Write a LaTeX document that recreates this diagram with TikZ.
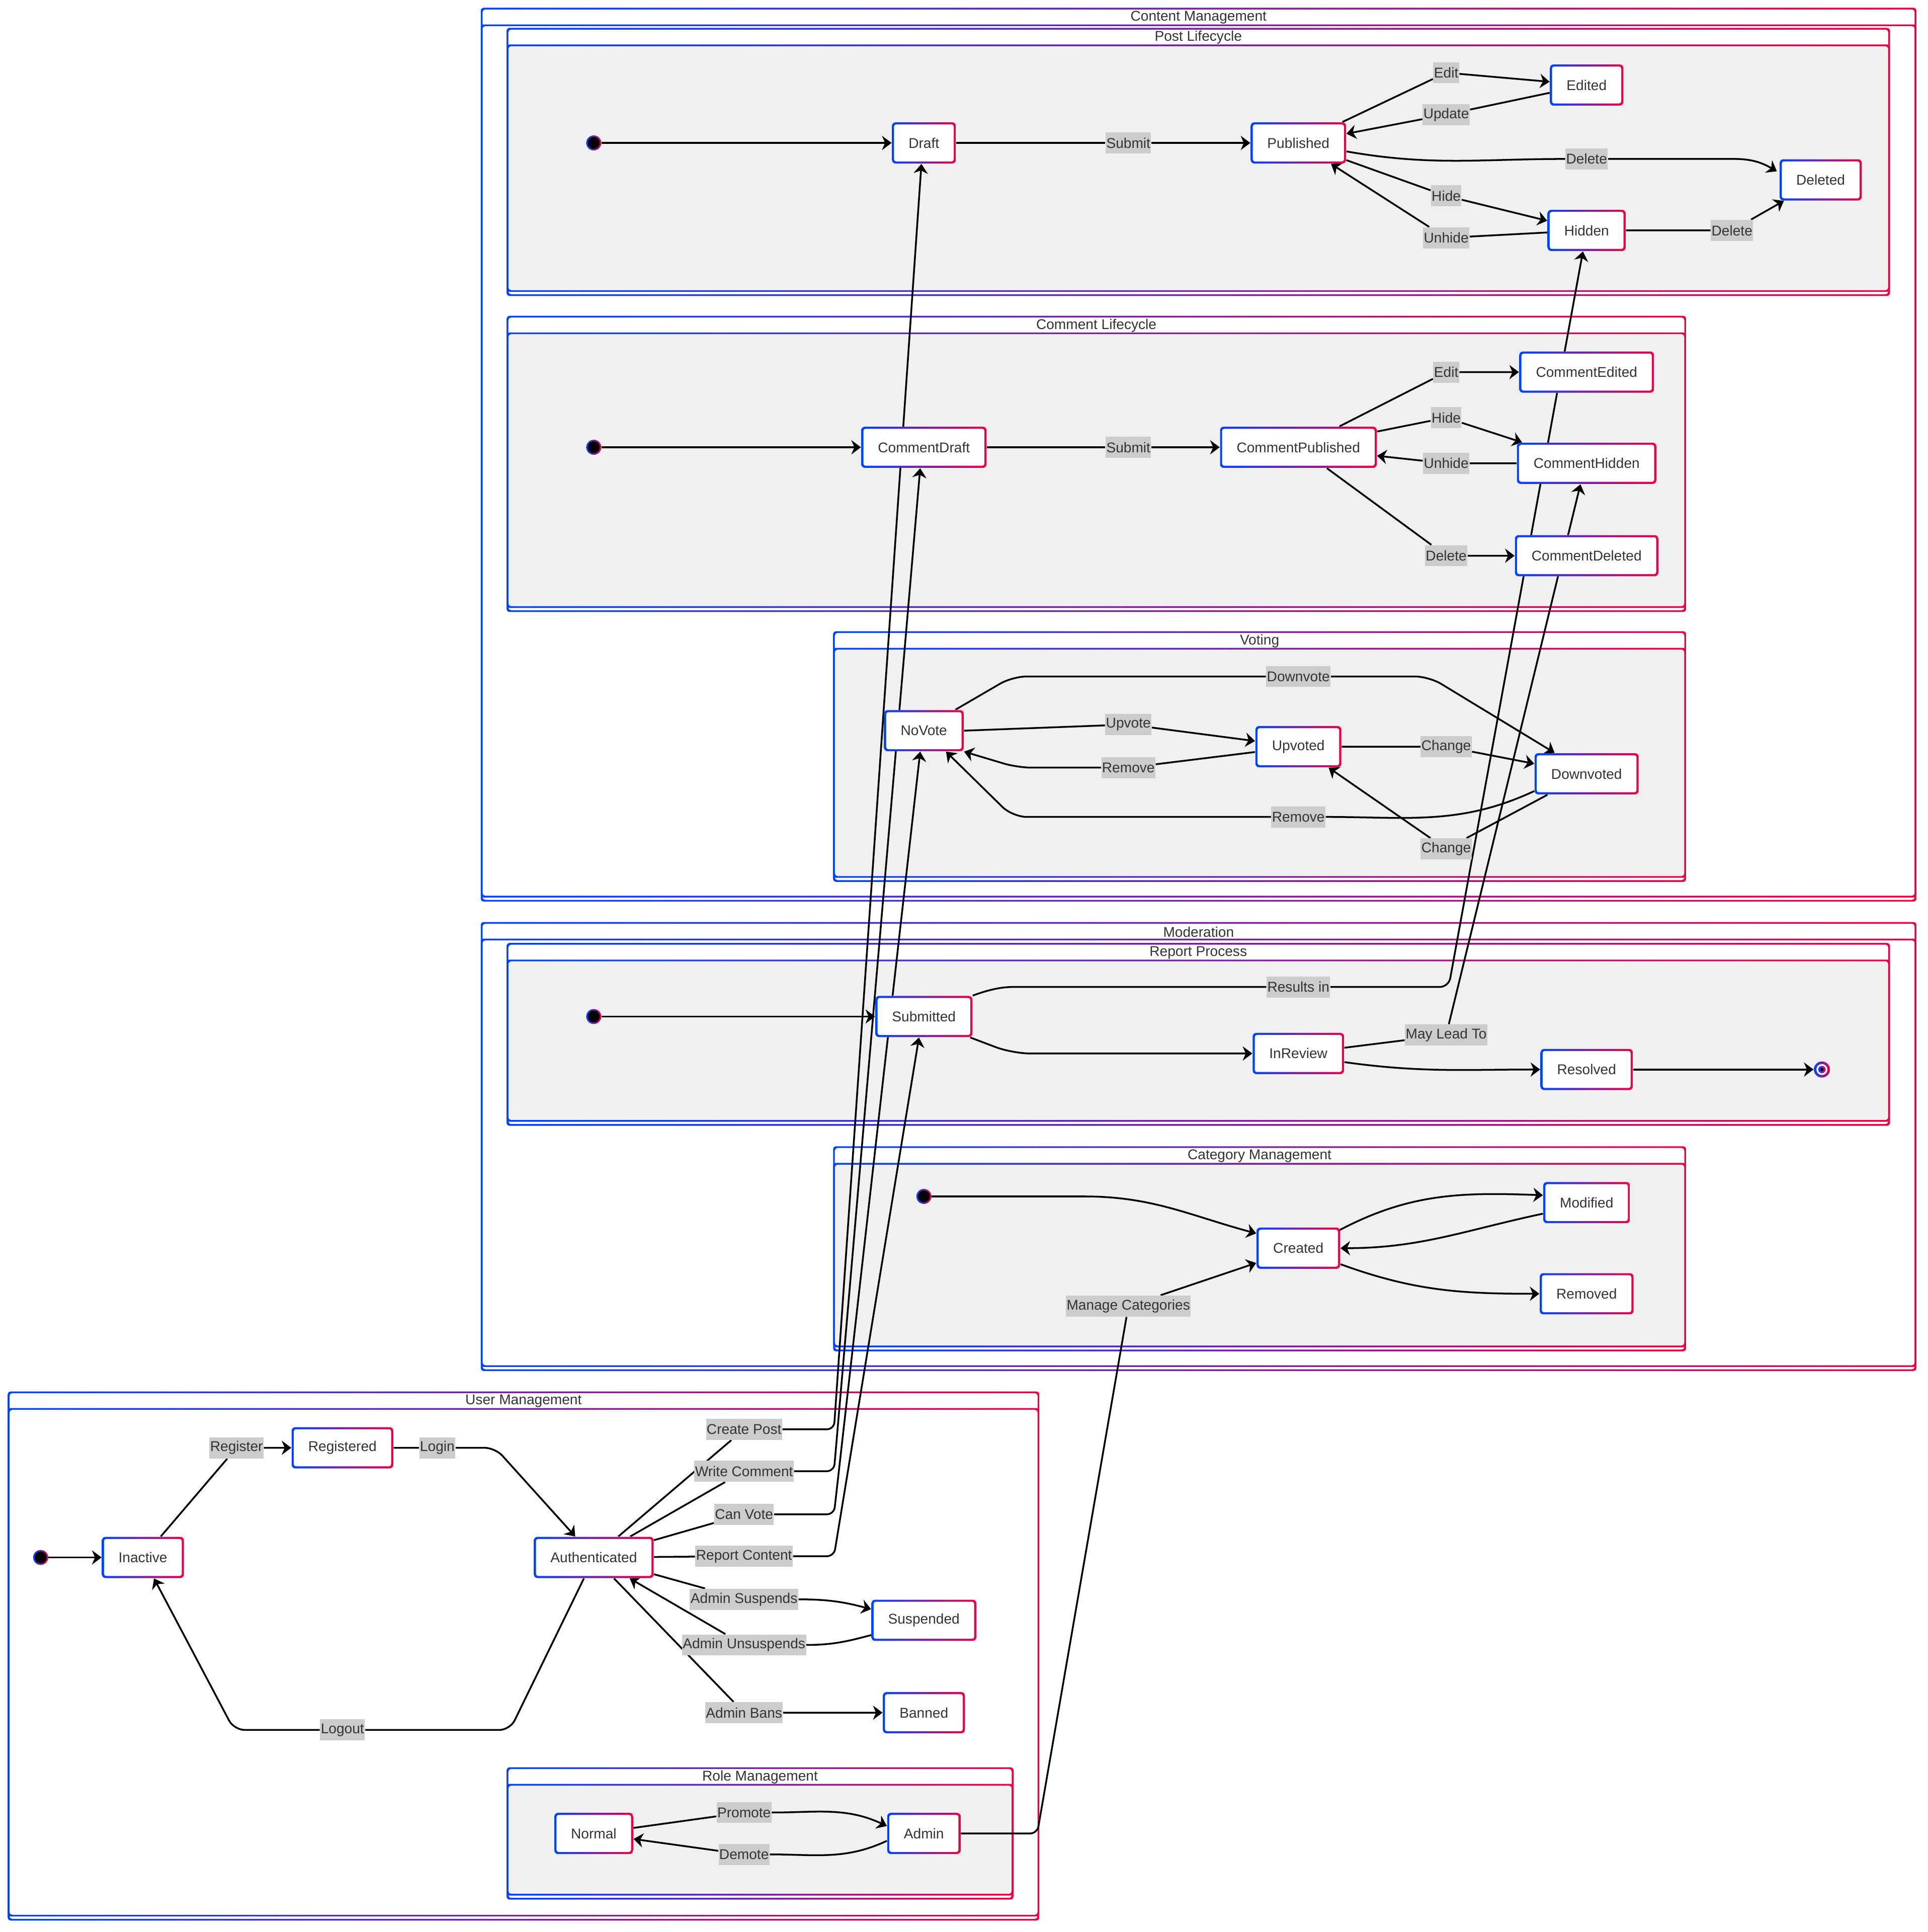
\documentclass[tikz,border=0pt]{standalone}
\usepackage{fontspec}
\setmainfont{Liberation Sans}
\usetikzlibrary{arrows.meta,calc}
\definecolor{cblue}{RGB}{0,68,255}
\definecolor{cred}{RGB}{238,0,68}
\definecolor{txtgrey}{RGB}{51,51,51}
\definecolor{lblgrey}{RGB}{204,204,204}
\definecolor{bodygrey}{RGB}{240,240,240}
\pgfdeclarelayer{frames}
\pgfdeclarelayer{wires}
\pgfsetlayers{frames,wires,main}
\newcommand{\statefont}{\fontsize{8}{9.6}\selectfont}
% gradient ring round a rectangle
\newcommand{\ringbox}[4]{%
	\shade[left color=cblue, right color=cred, even odd rule, rounded corners=1.5pt]
		(#1-0.7,#2-0.7) rectangle (#3+0.7,#4+0.7)
		(#1+0.7,#2+0.7) rectangle (#3-0.7,#4-0.7);}
% cluster: name, left, top, right, bottom, body fill, title
\newcommand{\clusterbox}[7]{%
	\fill[white, rounded corners=1.5pt] (#2,#3) rectangle (#4,#5);
	\fill[#6, rounded corners=1.5pt] (#2,#3+13.5) rectangle (#4,#5-3.3);
	\ringbox{#2}{#3}{#4}{#5}
	\ringbox{#2}{#3+13.5}{#4}{#5-3.3}
	\node[ctitle] (#1) at ({(#2+#4)/2},{#3+7.2}) {#7};}
\tikzset{
	statebox/.style={rectangle, rounded corners=2pt, fill=white, minimum height=23.3pt,
		inner xsep=9.4pt, inner ysep=0pt, text=txtgrey, font=\statefont,
		path picture={
			\shade[left color=cblue, right color=cred]
				(path picture bounding box.south west) rectangle (path picture bounding box.north east);
			\fill[white, rounded corners=1.2pt]
				([shift={(1.2pt,1.2pt)}]path picture bounding box.south west) rectangle
				([shift={(-1.2pt,-1.2pt)}]path picture bounding box.north east);}},
	startdot/.style={circle, minimum size=8.4pt, inner sep=0pt, fill=black,
		path picture={
			\shade[left color=cblue, right color=cred]
				(path picture bounding box.south west) rectangle (path picture bounding box.north east);
			\fill[black] (path picture bounding box.center) circle (3.4pt);}},
	enddot/.style={circle, minimum size=9.1pt, inner sep=0pt, fill=white,
		path picture={
			\shade[left color=cblue, right color=cred]
				(path picture bounding box.south west) rectangle (path picture bounding box.north east);
			\fill[white] (path picture bounding box.center) circle (3.1pt);
			\shade[left color=cblue, right color=cred] (path picture bounding box.center) circle (2.1pt);
			\fill[black] (path picture bounding box.center) circle (0.9pt);}},
	lbl/.style={fill=lblgrey, text=txtgrey, font=\statefont, inner xsep=0.4pt, inner ysep=0pt,
		minimum height=11.9pt},
	ctitle/.style={text=txtgrey, font=\statefont, inner sep=0pt},
	trarr/.style={line width=1pt, line join=round, -{Stealth[length=5.4pt, width=8pt, inset=1.7pt]}}
}

\begin{document}
\begin{tikzpicture}[x=0.6967pt, y=-0.6967pt]
	\useasboundingbox (0,0) rectangle (1565,1568);
	\begin{pgfonlayer}{frames}
		\fill[white] (0,0) rectangle (1565,1568);
		\clusterbox{contentmgmt}{391}{7}{1555}{731}{white}{Content Management}
		\clusterbox{postlife}{412}{23.3}{1533.5}{239.5}{bodygrey}{Post Lifecycle}
		\clusterbox{commentlife}{412}{257}{1368}{496}{bodygrey}{Comment Lifecycle}
		\clusterbox{voting}{677}{513}{1368}{715}{bodygrey}{Voting}
		\clusterbox{moderation}{391}{749}{1555}{1112}{white}{Moderation}
		\clusterbox{reportproc}{412}{766}{1533.5}{913}{bodygrey}{Report Process}
		\clusterbox{catmgmt}{677}{931}{1368}{1096}{bodygrey}{Category Management}
		\clusterbox{usermgmt}{7}{1130}{843}{1558}{white}{User Management}
		\clusterbox{rolemgmt}{412}{1435}{822}{1541}{bodygrey}{Role Management}
	\end{pgfonlayer}

	% post lifecycle
	\node[startdot] (ps) at (482,116) {};
	\node[statebox] (draft) at (750,116) {Draft};
	\node[statebox] (published) at (1054,116) {Published};
	\node[statebox] (edited) at (1288,69) {Edited};
	\node[statebox] (deleted) at (1478,146) {Deleted};
	\node[statebox] (hidden) at (1288,187) {Hidden};
	% comment lifecycle
	\node[startdot] (cs) at (482,363) {};
	\node[statebox] (cdraft) at (750,363) {CommentDraft};
	\node[statebox] (cpub) at (1054,363) {CommentPublished};
	\node[statebox] (cedit) at (1288,302) {CommentEdited};
	\node[statebox] (chid) at (1288,376) {CommentHidden};
	\node[statebox] (cdel) at (1288,451) {CommentDeleted};
	% voting
	\node[statebox] (novote) at (750,593) {NoVote};
	\node[statebox] (upv) at (1054,606) {Upvoted};
	\node[statebox] (downv) at (1288,628) {Downvoted};
	% report process
	\node[startdot] (rs) at (482,825) {};
	\node[statebox] (subm) at (750,825) {Submitted};
	\node[statebox] (inrev) at (1054,855) {InReview};
	\node[statebox] (resol) at (1288,868) {Resolved};
	\node[enddot] (rend) at (1479,868) {};
	% category management
	\node[startdot] (cats) at (750,971) {};
	\node[statebox] (created) at (1054,1013) {Created};
	\node[statebox] (modif) at (1288,976) {Modified};
	\node[statebox] (remov) at (1288,1050) {Removed};
	% user management
	\node[startdot] (us) at (33,1264) {};
	\node[statebox] (inact) at (116,1264) {Inactive};
	\node[statebox] (regd) at (278,1175) {Registered};
	\node[statebox] (auth) at (482,1264) {Authenticated};
	\node[statebox] (susp) at (750,1315) {Suspended};
	\node[statebox] (bann) at (750,1390) {Banned};
	% role management
	\node[statebox] (normal) at (482,1488) {Normal};
	\node[statebox] (admin) at (750,1488) {Admin};

	% transition labels
	\node[lbl] (lSubmit) at (916,116) {Submit};
	\node[lbl] (lEdit) at (1174,59) {Edit};
	\node[lbl] (lUpdate) at (1174,93) {Update};
	\node[lbl] (lDelete) at (1288,129) {Delete};
	\node[lbl] (lHide) at (1174,159) {Hide};
	\node[lbl] (lUnhide) at (1174,193) {Unhide};
	\node[lbl] (lDeleteH) at (1406,187) {Delete};
	\node[lbl] (lcSubmit) at (916,363) {Submit};
	\node[lbl] (lcEdit) at (1174,302) {Edit};
	\node[lbl] (lcHide) at (1174,339) {Hide};
	\node[lbl] (lcUnhide) at (1174,376) {Unhide};
	\node[lbl] (lcDelete) at (1174,451) {Delete};
	\node[lbl] (lDownvote) at (1054,549) {Downvote};
	\node[lbl] (lUpvote) at (916,588) {Upvote};
	\node[lbl] (lRemove) at (916,623) {Remove};
	\node[lbl] (lChange) at (1174,606) {Change};
	\node[lbl] (lRemoveD) at (1054,663) {Remove};
	\node[lbl] (lChangeD) at (1174,689) {Change};
	\node[lbl] (lResults) at (1054,801) {Results in};
	\node[lbl] (lMayLead) at (1174,840) {May Lead To};
	\node[lbl] (lManage) at (916,1060) {Manage Categories};
	\node[lbl] (lRegister) at (192,1175) {Register};
	\node[lbl] (lLogin) at (355,1175) {Login};
	\node[lbl] (lLogout) at (278,1404) {Logout};
	\node[lbl] (lCreatePost) at (604,1160) {Create Post};
	\node[lbl] (lWriteComment) at (604,1194) {Write Comment};
	\node[lbl] (lCanVote) at (604,1229) {Can Vote};
	\node[lbl] (lReport) at (604,1263) {Report Content};
	\node[lbl] (lSuspends) at (604,1298) {Admin Suspends};
	\node[lbl] (lUnsuspends) at (604,1335) {Admin Unsuspends};
	\node[lbl] (lBans) at (604,1390) {Admin Bans};
	\node[lbl] (lPromote) at (604,1471) {Promote};
	\node[lbl] (lDemote) at (604,1505) {Demote};

	\begin{pgfonlayer}{wires}
		% post lifecycle
		\draw[trarr] (ps) -- (draft);
		\draw[trarr] (draft) -- (lSubmit) -- (published);
		\draw[trarr] (published) -- (lEdit) -- (edited);
		\draw[trarr] (edited) -- (lUpdate) -- (published);
		\draw[trarr] (published) to[out=-10,in=180] (lDelete) -- (1408,129)
			to[out=0,in=150] ([shift={(-2,-7)}]deleted.west);
		\draw[trarr] (published) -- (lHide) -- (hidden);
		\draw[trarr] (hidden) -- (lUnhide) -- (published);
		\draw[trarr] (hidden) -- (lDeleteH) -- (deleted);
		% comment lifecycle
		\draw[trarr] (cs) -- (cdraft);
		\draw[trarr] (cdraft) -- (lcSubmit) -- (cpub);
		\draw[trarr] (cpub) -- (lcEdit) -- (cedit);
		\draw[trarr] (cpub) -- (lcHide) -- (chid);
		\draw[trarr] (chid) -- (lcUnhide) -- (cpub);
		\draw[trarr] (cpub) -- (lcDelete) -- (cdel);
		% voting
		\draw[trarr, rounded corners=8pt] ([shift={(-7,0)}]novote.north east) -- (822,549) -- (lDownvote)
			-- (1160,549) -- ([shift={(-26,0)}]downv.north);
		\draw[trarr] (novote.east) -- (lUpvote) -- (upv);
		\draw[trarr, rounded corners=8pt] (upv) -- (lRemove) -- (826,623) -- (novote.south east);
		\draw[trarr] (upv) -- (lChange) -- (downv);
		\draw[trarr, rounded corners=8pt] ([shift={(0,-3)}]downv.south west) to[out=205,in=0] (lRemoveD)
			-- (822,663) -- ([shift={(18,0)}]novote.south);
		\draw[trarr] (downv) -- (lChangeD) -- (upv);
		% report process
		\draw[trarr] (rs) -- (subm);
		\draw[trarr, rounded corners=5pt] (subm.north east) to[out=20,in=180] (830,801) -- (lResults)
			-- (1176,801) -- ([shift={(-3,0)}]hidden.south);
		\draw[trarr, rounded corners=10pt] ([shift={(-2,0)}]subm.south east) -- (822,855) -- (inrev.west);
		\draw[trarr] ([shift={(0,7)}]inrev.east) to[out=-8,in=180] (resol.west);
		\draw[trarr] (inrev) -- (lMayLead) -- ([shift={(-5,0)}]chid.south);
		\draw[trarr] (resol) -- (rend);
		% category management
		\draw[trarr] (cats) -- (880,971) to[out=0,in=165] ([shift={(0,-12)}]created.west);
		\draw[trarr] ([shift={(-2,3)}]created.north east) to[out=28,in=178] ([shift={(0,-6)}]modif.west);
		\draw[trarr] ([shift={(0,9)}]modif.west) to[out=192,in=0] (created.east);
		\draw[trarr] ([shift={(0,-4)}]created.south east) to[out=-20,in=180] (remov.west);
		\draw[trarr, rounded corners=4pt] (admin.east) -- (842,1488) -- (lManage)
			-- ([shift={(0,12)}]created.west);
		% user management
		\draw[trarr] (us) -- (inact);
		\draw[trarr] (inact) -- (lRegister) -- (regd);
		\draw[trarr, rounded corners=6pt] (regd) -- (lLogin) -- (402,1175) -- ([shift={(-15,0)}]auth.north);
		\draw[trarr, rounded corners=6pt] ([shift={(-8,0)}]auth.south) -- (414,1404) -- (lLogout)
			-- (190,1404) -- ([shift={(9,0)}]inact.south);
		\draw[trarr, rounded corners=4pt] (auth) -- (lCreatePost) -- (677,1160) -- ([shift={(-2,0)}]draft.south);
		\draw[trarr, rounded corners=4pt] (auth) -- (lWriteComment) -- (677,1194) -- ([shift={(-3,0)}]cdraft.south);
		\draw[trarr, rounded corners=4pt] (auth) -- (lCanVote) -- (677,1229) -- ([shift={(-3,0)}]novote.south);
		\draw[trarr, rounded corners=4pt] (auth) -- (lReport) -- (677,1263) -- ([shift={(-4,0)}]subm.south);
		\draw[trarr] (auth) -- (lSuspends) to[out=0,in=165] ([shift={(0,-9)}]susp.west);
		\draw[trarr] ([shift={(0,12)}]susp.west) to[out=195,in=0] (lUnsuspends) -- (auth);
		\draw[trarr] (auth) -- (lBans) -- (bann);
		% role management
		\draw[trarr] (normal) -- (lPromote) to[out=0,in=155] ([shift={(0,-6)}]admin.west);
		\draw[trarr] ([shift={(0,6)}]admin.west) to[out=205,in=0] (lDemote) -- (normal);
	\end{pgfonlayer}
\end{tikzpicture}
\end{document}
